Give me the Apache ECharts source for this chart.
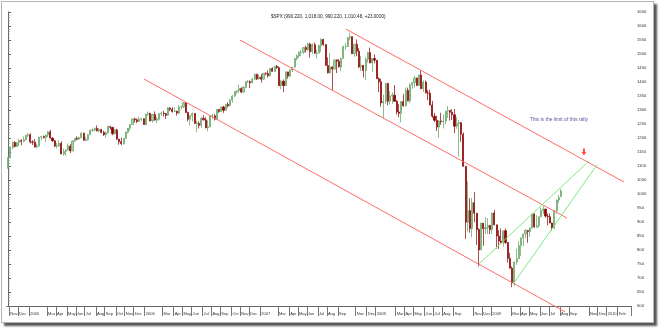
<!DOCTYPE html>
<html>
<head>
<meta charset="utf-8">
<script src="https://cdn.jsdelivr.net/npm/echarts@6/dist/echarts.min.js"></script>
<style>
html,body{margin:0;padding:0;background:#fff;}
#frame{position:absolute;left:1px;top:1px;width:651px;height:320px;border:1px solid #b4b4b4;box-shadow:3px 3px 2px #555;background:#fff;}
#chart{position:absolute;left:0;top:0;width:660px;height:330px;}
</style>
</head>
<body>
<div id="frame"></div>
<div id="chart"></div>
<script>
// Weekly $SPX candles: [open, close, low, high]
const ohlc2004 = [
[1095,1130,1090,1131],[1130,1166,1127,1170],[1166,1184,1160,1188],[1184,1170,1167,1189],[1170,1183,1168,1186],
[1183,1191,1171,1197],[1191,1188,1174,1196],[1188,1194,1185,1206],[1194,1210,1192,1211],[1210,1212,1204,1218]];
const ohlc2005 = [
[1212,1186,1180,1217],[1186,1185,1175,1192],[1185,1168,1166,1196],[1168,1171,1163,1180],[1171,1203,1170,1204],
[1203,1205,1193,1208],[1205,1202,1198,1209],[1202,1211,1184,1212],[1211,1222,1203,1225],[1222,1200,1198,1229],
[1200,1190,1186,1202],[1190,1171,1167,1193],[1171,1173,1163,1182],[1173,1181,1168,1192],[1181,1143,1142,1188],
[1143,1152,1137,1162],[1152,1157,1137,1160],[1157,1171,1156,1180],[1171,1154,1146,1178],[1154,1189,1153,1192],
[1189,1199,1186,1200],[1199,1196,1192,1206],[1196,1201,1193,1205],[1201,1217,1199,1220],[1217,1192,1191,1219],
[1192,1194,1188,1203],[1194,1212,1191,1213],[1212,1228,1210,1229],[1228,1229,1222,1234],[1229,1234,1224,1238],
[1234,1226,1223,1245],[1226,1230,1220,1236],[1230,1220,1217,1233],[1220,1212,1207,1226],[1212,1218,1201,1224],
[1218,1241,1217,1243],[1241,1238,1230,1243],[1238,1215,1210,1238],[1215,1229,1213,1231],[1229,1196,1193,1233],
[1196,1187,1176,1197],[1187,1180,1175,1201],[1180,1198,1177,1200],[1198,1220,1198,1224],[1220,1235,1216,1236],
[1235,1248,1226,1249],[1248,1268,1247,1270],[1268,1265,1255,1273],[1265,1259,1253,1270],[1259,1267,1258,1276],
[1267,1269,1260,1272],[1269,1248,1247,1270]];
const ohlc2006 = [
[1248,1285,1245,1287],[1285,1288,1278,1295],[1288,1261,1260,1290],[1261,1284,1255,1286],[1284,1264,1262,1295],
[1264,1267,1253,1275],[1267,1287,1262,1289],[1287,1289,1277,1294],[1289,1287,1277,1297],[1287,1281,1268,1289],
[1281,1307,1280,1310],[1307,1303,1296,1310],[1303,1295,1291,1310],[1295,1296,1293,1310],[1296,1289,1280,1297],
[1289,1311,1285,1318],[1311,1311,1302,1316],[1311,1326,1307,1327],[1326,1291,1290,1326],[1291,1267,1259,1294],
[1267,1280,1245,1281],[1280,1288,1259,1291],[1288,1252,1250,1288],[1252,1252,1220,1261],[1252,1245,1234,1260],
[1245,1270,1236,1276],[1270,1265,1262,1281],[1265,1236,1235,1274],[1236,1240,1224,1263],[1240,1279,1240,1280],
[1279,1279,1268,1287],[1279,1267,1263,1285],[1267,1302,1266,1303],[1302,1295,1290,1303],[1295,1311,1293,1312],
[1311,1299,1290,1315],[1299,1320,1298,1322],[1320,1315,1309,1328],[1315,1336,1314,1340],[1336,1350,1326,1353],
[1350,1366,1346,1367],[1366,1369,1357,1371],[1369,1377,1360,1390],[1377,1364,1360,1381],[1364,1381,1363,1385],
[1381,1401,1378,1403],[1401,1401,1397,1407],[1401,1397,1378,1406],[1397,1410,1396,1415],[1410,1427,1408,1431],
[1427,1411,1407,1430],[1411,1418,1408,1427]];
const ohlc2007 = [
[1418,1410,1398,1429],[1410,1431,1408,1432],[1431,1430,1424,1435],[1430,1422,1416,1441],[1422,1448,1420,1450],
[1448,1438,1437,1453],[1438,1456,1436,1457],[1456,1451,1447,1461],[1451,1387,1386,1456],[1387,1403,1374,1408],
[1403,1387,1364,1409],[1387,1436,1386,1438],[1436,1421,1412,1437],[1421,1444,1416,1445],[1444,1453,1436,1453],
[1453,1484,1452,1485],[1484,1494,1477,1498],[1494,1506,1485,1510],[1506,1506,1491,1514],[1506,1523,1500,1523],
[1523,1516,1505,1530],[1516,1536,1510,1540],[1536,1508,1487,1540],[1508,1533,1500,1538],[1533,1503,1500,1541],
[1503,1503,1484,1516],[1503,1530,1503,1533],[1530,1552,1508,1556],[1552,1534,1529,1555],[1534,1459,1459,1534],
[1459,1433,1430,1488],[1433,1454,1429,1503],[1454,1446,1371,1456],[1446,1479,1444,1481],[1479,1474,1432,1481],
[1474,1454,1452,1482],[1454,1484,1439,1486],[1484,1526,1484,1530],[1526,1527,1516,1539],[1527,1558,1525,1561],
[1558,1562,1549,1576],[1562,1501,1500,1563],[1501,1535,1490,1536],[1535,1510,1492,1552],[1510,1454,1450,1521],
[1454,1459,1439,1493],[1459,1441,1416,1461],[1441,1481,1406,1488],[1481,1505,1469,1508],[1505,1468,1467,1523],
[1468,1484,1435,1486],[1484,1478,1467,1498]];
const ohlc2008 = [
[1478,1412,1411,1478],[1412,1401,1364,1417],[1401,1325,1312,1412],[1325,1331,1270,1355],[1331,1395,1323,1397],
[1395,1331,1317,1397],[1331,1350,1320,1368],[1350,1353,1322,1363],[1353,1331,1329,1389],[1331,1293,1284,1336],
[1293,1288,1274,1321],[1288,1330,1256,1331],[1330,1315,1312,1357],[1315,1370,1312,1380],[1370,1333,1331,1380],
[1333,1390,1324,1395],[1390,1398,1376,1400],[1398,1414,1380,1422],[1414,1388,1385,1416],[1388,1425,1387,1426],
[1425,1376,1375,1440],[1376,1400,1364,1406],[1400,1361,1359,1405],[1361,1360,1335,1371],[1360,1318,1316,1372],
[1318,1278,1272,1332],[1278,1263,1257,1290],[1263,1239,1225,1279],[1239,1261,1200,1264],[1261,1258,1247,1290],
[1258,1260,1234,1285],[1260,1296,1249,1297],[1296,1298,1272,1314],[1298,1292,1262,1300],[1292,1283,1264,1303],
[1283,1242,1217,1304],[1242,1252,1233,1275],[1252,1255,1133,1265],[1255,1213,1187,1255],[1213,1099,1098,1220],
[1099,899,840,1099],[899,941,866,1045],[941,877,862,985],[877,969,845,986],[969,931,899,1007],
[931,873,818,933],[873,800,741,878],[800,896,800,897],[896,876,815,896],[876,880,857,918],
[880,888,857,914],[888,873,857,888]];
const ohlc2009 = [
[873,932,857,934],[932,890,888,943],[890,850,805,890],[850,832,804,871],[832,826,821,877],
[826,869,812,870],[869,827,821,876],[827,770,755,828],[770,735,734,790],[735,683,667,741],
[683,757,672,758],[757,769,747,804],[769,816,768,832],[816,843,779,845],[843,857,814,857],
[857,870,842,875],[870,866,826,871],[866,878,847,880],[878,929,877,930],[929,883,878,930],
[883,887,878,924],[887,919,879,920],[919,940,918,951],[940,946,928,956],[946,921,915,947],
[921,919,888,930],[919,896,896,931],[896,879,869,898],[879,940,875,943],[940,979,930,979],
[979,987,968,996],[990.22,1010.48,990.22,1018]];

// Y-axis tick labels
const yMin = 600, yMax = 1650, yStep = 50;
const titleText = '$SPX (990.220, 1,018.00, 990.220, 1,010.48, +23.0000)';
const noteText = 'This is the limit of this rally';

// Trend lines drawn by the analyst: [week index, price]
const redUpper  = [[152.1, 1589], [277.3, 1043]];
const redMiddle = [[104.4, 1550], [251.7, 914]];
const redLower  = [[61.1, 1411], [250.8, 579]];
const greenUpper = [[212, 750], [261.6, 1118]];
const greenLower = [[227.3, 677], [265.2, 1104]];
const notePoint = [[248, 1264]];
const arrowPoint = [[259.3, 1150]];

const totalWeeks = 281;
const MONTHS = ['Jan','Feb','Mar','Apr','May','Jun','Jul','Aug','Sep','Oct','Nov','Dec'];
const dates = [];
const t0 = Date.UTC(2004, 9, 29);
for (let i = 0; i < totalWeeks; i++) {
  const d = new Date(t0 + i * 7 * 86400000);
  dates.push(d.toISOString().slice(0, 10));
}
const ohlc = [].concat(ohlc2004, ohlc2005, ohlc2006, ohlc2007, ohlc2008, ohlc2009);

function monthLabel(idx) {
  if (idx === 0) return null;
  const d = dates[idx], p = dates[idx - 1];
  const y = +d.slice(0, 4), m = +d.slice(5, 7) - 1;
  if (m === +p.slice(5, 7) - 1) return null;
  if (y >= 2010 && m > 1) return null;
  if (m === 0) return String(y);
  if (m === 1 && y < 2010) return null;
  if (m === 9 && y >= 2007) return null;
  return MONTHS[m];
}
const labelAt = dates.map((_, i) => monthLabel(i));

const chart = echarts.init(document.getElementById('chart'), null, {renderer: 'canvas'});
const FONT = 'Liberation Sans';
chart.setOption({
  animation: false,
  backgroundColor: 'transparent',
  title: {
    text: titleText, left: 266, top: 9,
    textStyle: {fontSize: 4.6, fontWeight: 'normal', color: '#222', fontFamily: FONT}
  },
  grid: {left: 7, right: 29, top: 12, bottom: 24},
  xAxis: [{
    type: 'category', data: dates, boundaryGap: true,
    axisLine: {lineStyle: {color: '#666', width: 1}},
    axisTick: {show: true, length: 10, lineStyle: {color: '#777'},
      interval: (i) => labelAt[i] !== null},
    axisLabel: {
      interval: (i) => labelAt[i] !== null,
      formatter: (v, i) => labelAt[i] || '',
      align: 'left', margin: 6, fontSize: 4, color: '#333', fontFamily: FONT,
      hideOverlap: false
    },
    splitLine: {show: false}
  }, {
    type: 'value', min: -0.5, max: totalWeeks - 0.5, show: false
  }],
  yAxis: {
    type: 'value', position: 'right', min: yMin, max: yMax, interval: yStep,
    axisLine: {show: true, lineStyle: {color: '#666'}},
    axisTick: {show: true, length: 3, lineStyle: {color: '#666'}},
    minorTick: {show: true, splitNumber: 5, length: 1.5, lineStyle: {color: '#888'}},
    axisLabel: {fontSize: 4.2, color: '#333', margin: 6, fontFamily: FONT, formatter: (v) => String(v)},
    splitLine: {show: false}
  },
  series: [
    {
      type: 'candlestick', xAxisIndex: 0, data: ohlc, barWidth: '72%',
      itemStyle: {color: '#a6d4a6', color0: '#8b0000', borderColor: '#5f9f5f', borderColor0: '#8b0000', borderWidth: 0.7}
    },
    ...[redUpper, redMiddle, redLower].map(d => ({
      type: 'line', xAxisIndex: 1, data: d, symbol: 'none', clip: false,
      lineStyle: {color: '#ff6a6a', width: 1}
    })),
    ...[greenUpper, greenLower].map(d => ({
      type: 'line', xAxisIndex: 1, data: d, symbol: 'none', clip: false,
      lineStyle: {color: '#7ee87e', width: 1}
    })),
    {
      type: 'scatter', xAxisIndex: 1, data: notePoint, symbolSize: 0,
      label: {show: true, formatter: noteText, position: 'inside', fontSize: 5, color: '#2a2a8a', fontFamily: FONT}
    },
    {
      type: 'scatter', xAxisIndex: 1, data: arrowPoint,
      symbol: 'path://M3,0 H7 V6 H10 L5,12 L0,6 H3 Z', symbolSize: [5, 7],
      itemStyle: {color: '#ff2020'}
    }
  ]
});
</script>
</body>
</html>
